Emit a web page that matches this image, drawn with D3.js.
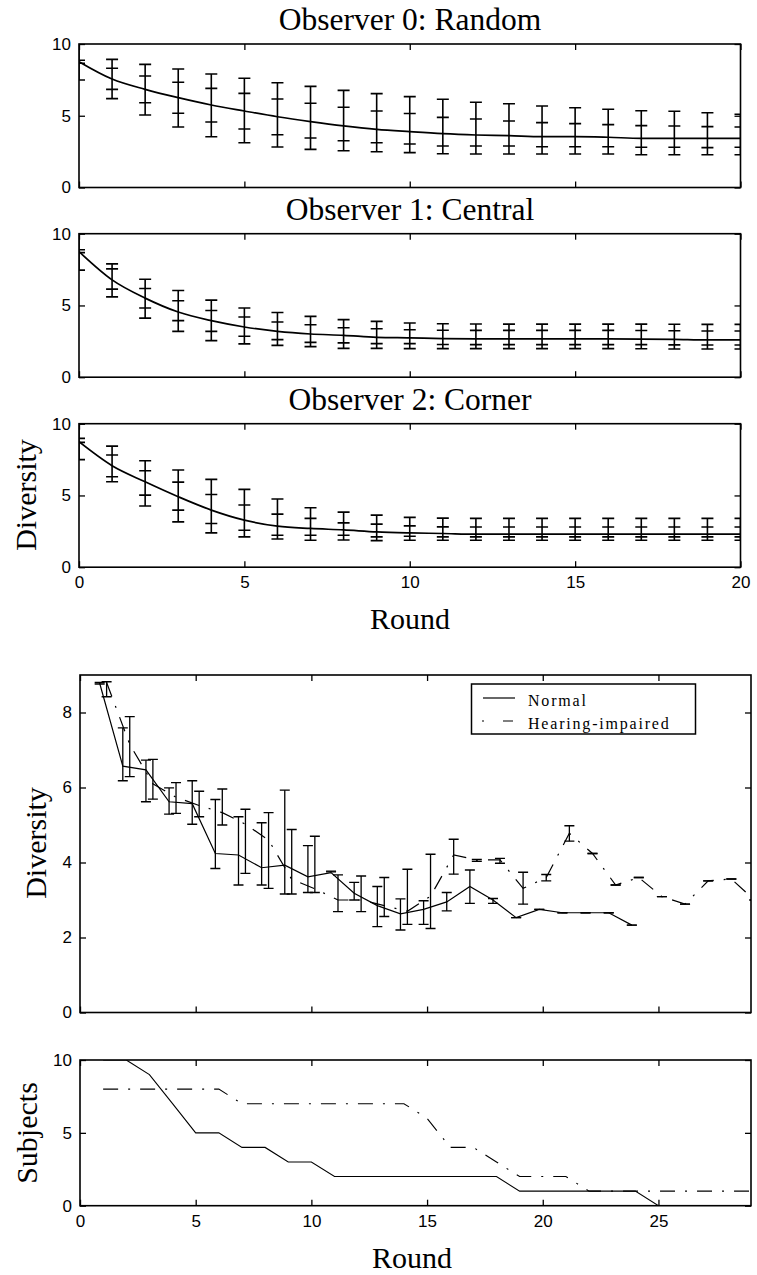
<!DOCTYPE html>
<html>
<head>
<meta charset="utf-8">
<script src="https://cdn.jsdelivr.net/npm/d3@7"></script>
<style>
  body { margin: 0; background: #fff; }
  svg { display: block; }
  .tick text { font-family: "Liberation Sans", Arial, sans-serif; font-size: 17px; fill: #000; }
  .serif { font-family: "Liberation Serif", "Times New Roman", serif; fill: #000; }
</style>
</head>
<body>
<svg width="757" height="1275"></svg>
<script>
// ---- top panels: diversity per round for three observers (0..20) ----
var rounds = d3.range(0, 21);

var randomMean    = [8.77, 7.56, 6.84, 6.26, 5.75, 5.33, 4.93, 4.59, 4.29, 4.05, 3.89, 3.75, 3.66, 3.61, 3.54, 3.54, 3.50, 3.43, 3.43, 3.43, 3.43];
var randomOuterHi = [10.05, 8.93, 8.58, 8.26, 7.91, 7.61, 7.30, 7.05, 6.77, 6.54, 6.33, 6.15, 5.94, 5.84, 5.68, 5.56, 5.45, 5.35, 5.31, 5.21, 5.10];
var randomInnerHi = [8.87, 8.31, 7.77, 7.33, 6.91, 6.56, 6.17, 5.87, 5.59, 5.33, 5.16, 4.89, 4.77, 4.63, 4.52, 4.45, 4.38, 4.31, 4.29, 4.24, 4.22];
var randomInnerLo = [8.66, 6.84, 5.91, 5.17, 4.56, 4.08, 3.68, 3.45, 3.26, 3.12, 3.03, 2.89, 2.89, 2.89, 2.84, 2.84, 2.84, 2.80, 2.80, 2.78, 2.80];
var randomOuterLo = [7.49, 6.19, 5.05, 4.22, 3.54, 3.12, 2.82, 2.66, 2.56, 2.49, 2.43, 2.35, 2.33, 2.33, 2.33, 2.33, 2.33, 2.28, 2.28, 2.28, 2.28];

var centralMean    = [8.75, 6.78, 5.51, 4.54, 3.94, 3.50, 3.19, 3.01, 2.92, 2.78, 2.74, 2.69, 2.67, 2.67, 2.67, 2.67, 2.67, 2.66, 2.64, 2.60, 2.60];
var centralOuterHi = [10.05, 7.90, 6.83, 6.04, 5.37, 4.82, 4.51, 4.24, 4.01, 3.89, 3.78, 3.72, 3.71, 3.70, 3.70, 3.70, 3.70, 3.70, 3.69, 3.68, 3.68];
var centralInnerHi = [8.88, 7.55, 6.18, 5.33, 4.65, 4.19, 3.85, 3.66, 3.45, 3.38, 3.31, 3.27, 3.26, 3.26, 3.26, 3.26, 3.26, 3.25, 3.24, 3.22, 3.22];
var centralInnerLo = [8.68, 6.14, 4.82, 3.94, 3.19, 2.85, 2.62, 2.43, 2.39, 2.34, 2.34, 2.28, 2.27, 2.27, 2.27, 2.27, 2.27, 2.27, 2.25, 2.24, 2.24];
var centralOuterLo = [7.46, 5.60, 4.12, 3.19, 2.55, 2.32, 2.22, 2.13, 2.01, 2.01, 1.99, 1.99, 1.99, 1.99, 1.99, 1.99, 1.99, 1.98, 1.97, 1.96, 1.96];

var cornerMean    = [8.74, 7.07, 5.95, 4.91, 3.98, 3.28, 2.86, 2.70, 2.60, 2.46, 2.39, 2.35, 2.30, 2.30, 2.30, 2.30, 2.30, 2.30, 2.30, 2.30, 2.30];
var cornerOuterHi = [10.0, 8.44, 7.42, 6.77, 6.12, 5.42, 4.75, 4.14, 3.84, 3.63, 3.47, 3.42, 3.40, 3.40, 3.40, 3.40, 3.40, 3.40, 3.40, 3.40, 3.40];
var cornerInnerHi = [8.98, 7.82, 6.72, 5.93, 5.07, 4.33, 3.70, 3.40, 3.09, 3.00, 2.88, 2.81, 2.80, 2.80, 2.80, 2.80, 2.80, 2.80, 2.80, 2.80, 2.80];
var cornerInnerLo = [8.70, 6.30, 5.02, 3.98, 3.05, 2.58, 2.23, 2.23, 2.23, 2.11, 2.16, 2.11, 2.11, 2.11, 2.11, 2.11, 2.11, 2.11, 2.11, 2.11, 2.11];
var cornerOuterLo = [7.50, 5.95, 4.26, 3.16, 2.39, 2.11, 1.97, 1.88, 1.90, 1.85, 1.88, 1.88, 1.88, 1.88, 1.88, 1.88, 1.88, 1.88, 1.88, 1.88, 1.88];

var observerTitles = ["Observer 0: Random", "Observer 1: Central", "Observer 2: Corner"];

// ---- middle chart: diversity, normal vs hearing-impaired ----
var normalRounds = d3.range(1, 25);
var normalMean = [8.78, 6.57, 6.47, 5.62, 5.57, 4.24, 4.20, 3.86, 3.93, 3.62, 3.73, 3.18, 2.85, 2.63, 2.75, 2.95, 3.36, 3.00, 2.53, 2.75, 2.66, 2.66, 2.66, 2.33];
var normalHi   = [8.80, 7.59, 6.73, 5.99, 6.18, 5.68, 5.22, 5.06, 5.93, 4.45, 3.77, 3.47, 3.36, 3.03, 2.98, 3.20, 3.80, 3.04, 2.53, 2.75, 2.66, 2.66, 2.66, 2.33];
var normalLo   = [8.76, 6.18, 5.62, 5.29, 5.02, 3.84, 3.40, 3.40, 3.16, 3.20, 3.75, 3.00, 2.29, 2.20, 2.35, 2.71, 2.91, 2.91, 2.53, 2.75, 2.66, 2.66, 2.66, 2.33];

var impairedRounds = d3.range(1, 30);
var impairedMean = [8.80, 7.15, 6.10, 5.74, 5.52, 5.33, 5.02, 4.60, 3.55, 3.30, 3.00, 3.00, 2.85, 2.70, 3.10, 4.20, 4.07, 4.07, 3.31, 3.60, 4.78, 4.24, 3.40, 3.60, 3.09, 2.89, 3.51, 3.56, 3.00];
var impairedHi   = [8.82, 7.89, 6.75, 6.13, 5.90, 5.96, 5.42, 5.33, 4.88, 4.70, 3.67, 3.64, 3.60, 3.82, 4.22, 4.62, 4.08, 4.11, 3.74, 3.68, 4.98, 4.24, 3.40, 3.60, 3.09, 2.89, 3.51, 3.56, 3.00];
var impairedLo   = [8.42, 6.29, 5.69, 5.31, 5.22, 5.00, 3.71, 3.31, 3.16, 3.20, 2.69, 2.69, 2.56, 2.35, 2.24, 3.69, 4.03, 3.98, 2.89, 3.51, 4.57, 4.24, 3.40, 3.60, 3.09, 2.89, 3.51, 3.56, 3.00];

// ---- bottom chart: subjects left per round ----
var normalCountRounds = d3.range(1, 26);
var normalCount = [10, 10, 9, 7, 5, 5, 4, 4, 3, 3, 2, 2, 2, 2, 2, 2, 2, 2, 1, 1, 1, 1, 1, 1, 0];
var impairedCountRounds = d3.range(1, 30);
var impairedCount = [8, 8, 8, 8, 8, 8, 7, 7, 7, 7, 7, 7, 7, 7, 6, 4, 4, 3, 2, 2, 2, 1, 1, 1, 1, 1, 1, 1, 1];

var legendLabels = ["Normal", "Hearing-impaired"];
var dashDot = "15,10,2,10";

var svg = d3.select("svg");

// frame with inward ticks on all four sides
function drawFrame(g, x, y, xTicks, yTicks, showX, showY) {
  g.append("g")
      .attr("transform", "translate(0," + y.range()[0] + ")")
      .call(d3.axisBottom(x).tickValues(xTicks).tickSize(-6).tickPadding(9)
        .tickFormat(showX ? d3.format("d") : ""));
  g.append("g")
      .attr("transform", "translate(0," + y.range()[1] + ")")
      .call(d3.axisTop(x).tickValues(xTicks).tickSize(-6).tickFormat(""));
  g.append("g")
      .attr("transform", "translate(" + x.range()[0] + ",0)")
      .call(d3.axisLeft(y).tickValues(yTicks).tickSize(-6).tickPadding(8)
        .tickFormat(showY ? d3.format("d") : ""));
  g.append("g")
      .attr("transform", "translate(" + x.range()[1] + ",0)")
      .call(d3.axisRight(y).tickValues(yTicks).tickSize(-6).tickFormat(""));
  g.selectAll(".domain").remove();
  g.selectAll(".tick line").attr("stroke", "#000").attr("stroke-width", 1.3);
  g.append("rect")
      .attr("x", x.range()[0]).attr("y", y.range()[1])
      .attr("width", x.range()[1] - x.range()[0])
      .attr("height", y.range()[0] - y.range()[1])
      .attr("fill", "none").attr("stroke", "#000").attr("stroke-width", 1.6);
}

function addClip(id, x, y) {
  svg.append("clipPath").attr("id", id).append("rect")
      .attr("x", x.range()[0]).attr("y", y.range()[1])
      .attr("width", x.range()[1] - x.range()[0])
      .attr("height", y.range()[0] - y.range()[1]);
}

// ---------- top three panels ----------
var xTop = d3.scaleLinear().domain([0, 20]).range([79, 740.5]);
var panelTops = [44, 233.7, 423.7];
var panelH = 143.5;
var obsData = [
  [randomMean, randomOuterHi, randomInnerHi, randomInnerLo, randomOuterLo],
  [centralMean, centralOuterHi, centralInnerHi, centralInnerLo, centralOuterLo],
  [cornerMean, cornerOuterHi, cornerInnerHi, cornerInnerLo, cornerOuterLo]
];

obsData.forEach(function(s, i) {
  var y = d3.scaleLinear().domain([0, 10]).range([panelTops[i] + panelH, panelTops[i]]);
  var g = svg.append("g");
  addClip("clipTop" + i, xTop, y);

  var pts = rounds.map(function(r, j) {
    return {r: r, m: s[0][j], oh: s[1][j], ih: s[2][j], il: s[3][j], ol: s[4][j]};
  });

  var marks = g.append("g").attr("clip-path", "url(#clipTop" + i + ")")
      .attr("stroke", "#000").attr("fill", "none");

  var bars = marks.selectAll(".bar").data(pts).enter().append("g");
  bars.append("line")
      .attr("x1", function(d) { return xTop(d.r); })
      .attr("x2", function(d) { return xTop(d.r); })
      .attr("y1", function(d) { return y(d.ol); })
      .attr("y2", function(d) { return y(d.oh); })
      .attr("stroke-width", 1.6);
  ["oh", "ih", "il", "ol"].forEach(function(k) {
    bars.append("line")
        .attr("x1", function(d) { return xTop(d.r) - 6; })
        .attr("x2", function(d) { return xTop(d.r) + 6; })
        .attr("y1", function(d) { return y(d[k]); })
        .attr("y2", function(d) { return y(d[k]); })
        .attr("stroke-width", 1.6);
  });

  marks.append("path")
      .datum(pts)
      .attr("stroke-width", 1.7)
      .attr("d", d3.line().curve(d3.curveMonotoneX)
        .x(function(d) { return xTop(d.r); })
        .y(function(d) { return y(d.m); }));

  drawFrame(g, xTop, y, [0, 5, 10, 15, 20], [0, 5, 10], i === 2, true);

  svg.append("text").attr("class", "serif")
      .attr("x", 410).attr("y", panelTops[i] - 14)
      .attr("text-anchor", "middle").attr("font-size", 31.5)
      .text(observerTitles[i]);
});

svg.append("text").attr("class", "serif")
    .attr("transform", "translate(36,495) rotate(-90)")
    .attr("text-anchor", "middle").attr("font-size", 30)
    .text("Diversity");
svg.append("text").attr("class", "serif")
    .attr("x", 410).attr("y", 629)
    .attr("text-anchor", "middle").attr("font-size", 30)
    .text("Round");

// ---------- middle chart ----------
var xB = d3.scaleLinear().domain([0, 29]).range([80, 751]);
var yMid = d3.scaleLinear().domain([0, 9]).range([1012.5, 675]);
addClip("clipMid", xB, yMid);
var gMid = svg.append("g");

var normalPts = normalRounds.map(function(r, j) {
  return {r: r - 0.15, m: normalMean[j], hi: normalHi[j], lo: normalLo[j]};
});
var impairedPts = impairedRounds.map(function(r, j) {
  return {r: r + 0.15, m: impairedMean[j], hi: impairedHi[j], lo: impairedLo[j]};
});

var midMarks = gMid.append("g").attr("clip-path", "url(#clipMid)")
    .attr("stroke", "#000").attr("fill", "none");

function errorBars(pts) {
  var b = midMarks.append("g").selectAll("g").data(pts).enter().append("g")
      .attr("stroke-width", 1.3);
  b.append("line")
      .attr("x1", function(d) { return xB(d.r); })
      .attr("x2", function(d) { return xB(d.r); })
      .attr("y1", function(d) { return yMid(d.lo); })
      .attr("y2", function(d) { return yMid(d.hi); });
  ["lo", "hi"].forEach(function(k) {
    b.append("line")
        .attr("x1", function(d) { return xB(d.r) - 5; })
        .attr("x2", function(d) { return xB(d.r) + 5; })
        .attr("y1", function(d) { return yMid(d[k]); })
        .attr("y2", function(d) { return yMid(d[k]); });
  });
}
errorBars(normalPts);
errorBars(impairedPts);

var midLine = d3.line()
    .x(function(d) { return xB(d.r); })
    .y(function(d) { return yMid(d.m); });
midMarks.append("path").datum(normalPts).attr("stroke-width", 1.2).attr("d", midLine);
midMarks.append("path").datum(impairedPts).attr("stroke-width", 1.2)
    .attr("stroke-dasharray", dashDot).attr("d", midLine);

drawFrame(gMid, xB, yMid, [0, 5, 10, 15, 20, 25], [0, 2, 4, 6, 8], false, true);

// legend
var leg = gMid.append("g");
leg.append("rect").attr("x", 471.5).attr("y", 684).attr("width", 224).attr("height", 50)
    .attr("fill", "#fff").attr("stroke", "#000").attr("stroke-width", 1.5);
leg.append("line").attr("x1", 483).attr("x2", 515).attr("y1", 698).attr("y2", 698)
    .attr("stroke", "#000").attr("stroke-width", 1.2);
leg.append("line").attr("x1", 482).attr("x2", 514).attr("y1", 721).attr("y2", 721)
    .attr("stroke", "#000").attr("stroke-width", 1.2).attr("stroke-dasharray", "2,19,10,10");
legendLabels.forEach(function(t, i) {
  leg.append("text").attr("class", "serif")
      .attr("x", 528).attr("y", 706 + i * 23).attr("font-size", 16)
      .attr("letter-spacing", 1.8)
      .text(t);
});

svg.append("text").attr("class", "serif")
    .attr("transform", "translate(46,843) rotate(-90)")
    .attr("text-anchor", "middle").attr("font-size", 30)
    .text("Diversity");

// ---------- subjects chart ----------
var ySub = d3.scaleLinear().domain([0, 10]).range([1205.7, 1060]);
addClip("clipSub", xB, ySub);
var gSub = svg.append("g");
var subMarks = gSub.append("g").attr("clip-path", "url(#clipSub)")
    .attr("stroke", "#000").attr("fill", "none").attr("stroke-width", 1.1);

subMarks.append("path")
    .datum(normalCountRounds.map(function(r, j) { return [r, normalCount[j]]; }))
    .attr("d", d3.line().x(function(d) { return xB(d[0]); }).y(function(d) { return ySub(d[1]); }));
subMarks.append("path")
    .datum(impairedCountRounds.map(function(r, j) { return [r, impairedCount[j]]; }))
    .attr("stroke-dasharray", dashDot)
    .attr("d", d3.line().x(function(d) { return xB(d[0]); }).y(function(d) { return ySub(d[1]); }));

drawFrame(gSub, xB, ySub, [0, 5, 10, 15, 20, 25], [0, 5, 10], true, true);

svg.append("text").attr("class", "serif")
    .attr("transform", "translate(37,1133) rotate(-90)")
    .attr("text-anchor", "middle").attr("font-size", 30)
    .text("Subjects");
svg.append("text").attr("class", "serif")
    .attr("x", 412).attr("y", 1268)
    .attr("text-anchor", "middle").attr("font-size", 30)
    .text("Round");
</script>
</body>
</html>
